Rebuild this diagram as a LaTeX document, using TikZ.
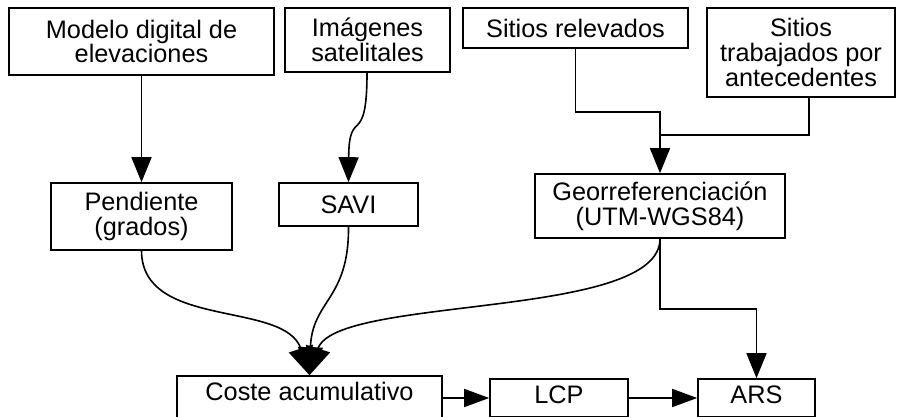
\documentclass[tikz,border=0pt]{standalone}
\usepackage{fontspec}
\setmainfont{Liberation Sans}
\usetikzlibrary{arrows.meta}
\begin{document}
\begin{tikzpicture}[x=1pt,y=-1pt,
  box/.style={draw, line width=1.6pt, inner sep=0pt, align=center, text=black,
    font=\fontsize{25.3}{24.8}\selectfont},
  conn/.style={line width=1.6pt},
  arr/.style={conn, -{Triangle[length=25pt,width=20pt]}},
  bigarr/.style={conn, -{Triangle[length=28pt,width=25pt]}},
  harr/.style={conn, -{Triangle[length=25pt,width=18pt]}},
]
\useasboundingbox (0,0) rectangle (903,416);
\clip (0,0) rectangle (903,416);
% top row
\node[box, minimum width=265pt, minimum height=67pt] (dem) at (141.5,41.5) {Modelo digital de\\elevaciones};
\node[box, minimum width=165pt, minimum height=64pt] (img) at (367.5,40) {Imágenes\\satelitales};
\node[box, minimum width=225pt, minimum height=40pt] (sr) at (575.5,28) {Sitios relevados};
\node[box, minimum width=188pt, minimum height=89pt] (st) at (801,52.5) {Sitios\\trabajados por\\antecedentes};
% middle row
\node[box, minimum width=181pt, minimum height=67pt] (pend) at (141.5,216.5) {Pendiente\\(grados)};
\node[box, minimum width=139pt, minimum height=43pt] (savi) at (348.5,204.5) {SAVI};
\node[box, minimum width=250pt, minimum height=64pt] (geo) at (660,206) {Georreferenciación\\(UTM-WGS84)};
% bottom row
\node[box, minimum width=265pt, minimum height=44pt, text height=18pt, text depth=14pt] (coste) at (309.5,398) {Coste acumulativo};
\node[box, minimum width=138pt, minimum height=38pt, text height=20pt, text depth=10pt] (lcp) at (559,398) {LCP};
\node[box, minimum width=117pt, minimum height=38pt, text height=20pt, text depth=10pt] (ars) at (756.5,398) {ARS};
% junction points
\coordinate (j1) at (660,112);
\coordinate (j2) at (660,135);
\coordinate (j4) at (660,309);
% connectors
\draw[arr] (dem.south) -- (pend.north);
\draw[arr] ([xshift=-0.5pt]img.south) .. controls (367,150) and (349,105) .. (savi.north);
\draw[arr] (sr.south) |- (j1) -- (geo.north);
\draw[conn] ([xshift=8pt]st.south) |- (j2);
\draw[bigarr] (pend.south) .. controls (142,330) and (285,300) .. (coste.north);
\draw[bigarr] (savi.south) .. controls (349,300) and (312,300) .. (coste.north);
\draw[bigarr] (geo.south) .. controls (660,320) and (335,295) .. (coste.north);
\draw[arr] (geo.south) -- (j4) -| (ars.north);
\draw[harr] (coste.east) -- (lcp.west);
\draw[harr] (lcp.east) -- (ars.west);
\end{tikzpicture}
\end{document}
